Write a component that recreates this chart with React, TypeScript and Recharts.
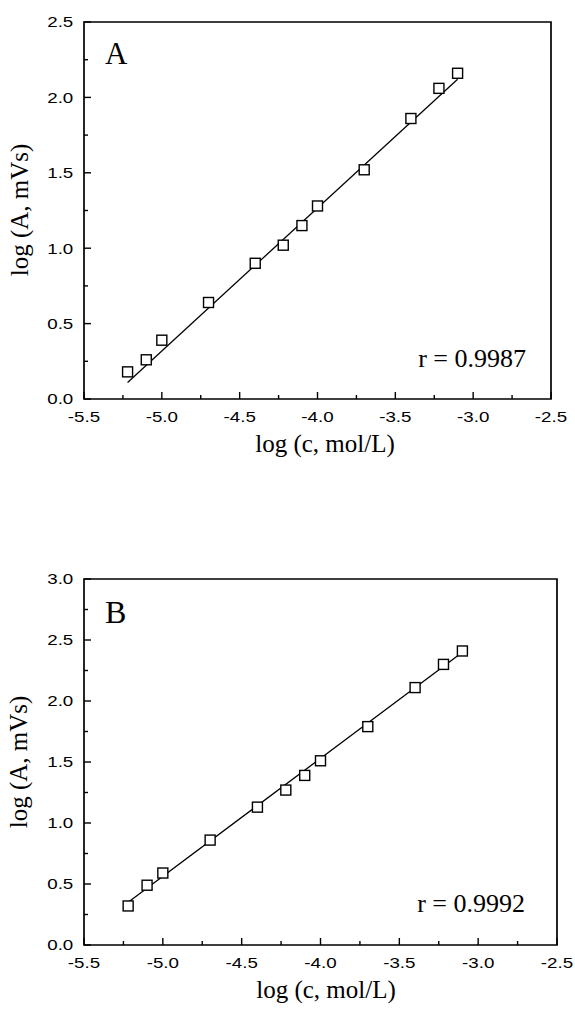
// 検量線 A / B（log c vs log A）
import { ScatterChart, Scatter, XAxis, YAxis, ReferenceArea } from "recharts";

// 濃度（共通）
const logC = [-5.22, -5.1, -5.0, -4.7, -4.4, -4.22, -4.1, -4.0, -3.7, -3.4, -3.22, -3.1];

// ピーク面積
const logAreaA = [0.18, 0.26, 0.39, 0.64, 0.9, 1.02, 1.15, 1.28, 1.52, 1.86, 2.06, 2.16];
const logAreaB = [0.32, 0.49, 0.59, 0.86, 1.13, 1.27, 1.39, 1.51, 1.79, 2.11, 2.3, 2.41];

// 回帰直線の両端
const fitA = [
  { x: -5.22, y: 0.11 },
  { x: -3.1, y: 2.12 },
];
const fitB = [
  { x: -5.22, y: 0.35 },
  { x: -3.1, y: 2.4 },
];

// 目盛り
const xMajor = [-5.5, -5.0, -4.5, -4.0, -3.5, -3.0, -2.5];
const xMinor = [-5.25, -4.75, -4.25, -3.75, -3.25, -2.75];
const yMajorA = [0, 0.5, 1.0, 1.5, 2.0, 2.5];
const yMinorA = [0.25, 0.75, 1.25, 1.75, 2.25];
const yMajorB = [0, 0.5, 1.0, 1.5, 2.0, 2.5, 3.0];
const yMinorB = [0.25, 0.75, 1.25, 1.75, 2.25, 2.75];

const SANS = "'Liberation Sans', Arial, Helvetica, sans-serif";
const SERIF = "'Liberation Serif', 'Times New Roman', serif";

const toPoints = (xs: number[], ys: number[]) => xs.map((x, i) => ({ x, y: ys[i] }));

// 白抜きの四角マーカー
const SquareMarker = (props: any) => {
  const { cx, cy } = props;
  if (cx == null || cy == null) return <g />;
  return <rect x={cx - 5} y={cy - 5} width={10} height={10} fill="#fff" stroke="#000" strokeWidth={1.4} />;
};

// 内向きの目盛り + ラベル（X）
const makeXTick = (majors: number[]) => (props: any) => {
  const { x, y, payload } = props;
  const v = payload.value as number;
  const isMajor = majors.includes(v);
  return (
    <g>
      <line x1={x} x2={x} y1={y} y2={y - (isMajor ? 7 : 4)} stroke="#000" strokeWidth={1.4} />
      {isMajor && (
        <text
          transform={`translate(${x},${y + 23}) scale(1.25,1)`}
          textAnchor="middle"
          fontFamily={SANS}
          fontSize={15}
          fill="#000"
        >
          {v.toFixed(1)}
        </text>
      )}
    </g>
  );
};

// 内向きの目盛り + ラベル（Y）
const makeYTick = (majors: number[]) => (props: any) => {
  const { x, y, payload } = props;
  const v = payload.value as number;
  const isMajor = majors.includes(v);
  return (
    <g>
      <line x1={x} x2={x + (isMajor ? 7 : 4)} y1={y} y2={y} stroke="#000" strokeWidth={1.4} />
      {isMajor && (
        <text
          transform={`translate(${x - 10.7},${y + 5.3}) scale(1.25,1)`}
          textAnchor="end"
          fontFamily={SANS}
          fontSize={15}
          fill="#000"
        >
          {v.toFixed(1)}
        </text>
      )}
    </g>
  );
};

type PanelProps = {
  width: number;
  height: number;
  margin: { top: number; right: number; bottom: number; left: number };
  points: { x: number; y: number }[];
  fit: { x: number; y: number }[];
  yMax: number;
  yMajor: number[];
  yMinor: number[];
  letter: string;
  letterPos: { x: number; y: number; size: number };
  rText: string;
  rPos: { x: number; y: number };
  xTitlePos: { x: number; y: number };
  yTitlePos: { x: number; y: number };
};

function Panel(p: PanelProps) {
  const xTicks = [...xMajor, ...xMinor].sort((a, b) => a - b);
  const yTicks = [...p.yMajor, ...p.yMinor].sort((a, b) => a - b);
  return (
    <div style={{ position: "relative", width: p.width, height: p.height }}>
      <ScatterChart width={p.width} height={p.height} margin={p.margin}>
        <XAxis
          type="number"
          dataKey="x"
          domain={[-5.5, -2.5]}
          ticks={xTicks}
          interval={0}
          axisLine={false}
          tickLine={false}
          tickSize={0}
          tickMargin={0}
          tick={makeXTick(xMajor)}
          height={30}
        />
        <YAxis
          type="number"
          dataKey="y"
          domain={[0, p.yMax]}
          ticks={yTicks}
          interval={0}
          axisLine={false}
          tickLine={false}
          tickSize={0}
          tickMargin={0}
          tick={makeYTick(p.yMajor)}
          width={60}
        />
        {/* 枠線 */}
        <ReferenceArea x1={-5.5} x2={-2.5} y1={0} y2={p.yMax} fill="none" stroke="#000" strokeWidth={1.7} />
        {/* 回帰直線 */}
        <Scatter
          data={p.fit}
          line={{ stroke: "#000", strokeWidth: 1.3 }}
          shape={() => <g />}
          isAnimationActive={false}
        />
        <Scatter data={p.points} shape={SquareMarker} isAnimationActive={false} />
      </ScatterChart>

      {/* 文字（パネル記号・相関係数・軸タイトル） */}
      <svg
        width={p.width}
        height={p.height}
        style={{ position: "absolute", left: 0, top: 0, pointerEvents: "none" }}
      >
        <text x={p.letterPos.x} y={p.letterPos.y} fontFamily={SERIF} fontSize={p.letterPos.size} fill="#000">
          {p.letter}
        </text>
        <text x={p.rPos.x} y={p.rPos.y} textAnchor="end" fontFamily={SERIF} fontSize={26} fill="#000">
          {p.rText}
        </text>
        <text x={p.xTitlePos.x} y={p.xTitlePos.y} textAnchor="middle" fontFamily={SERIF} fontSize={25} fill="#000">
          log (c, mol/L)
        </text>
        <text
          transform={`translate(${p.yTitlePos.x},${p.yTitlePos.y}) rotate(-90)`}
          textAnchor="middle"
          fontFamily={SERIF}
          fontSize={25}
          fill="#000"
        >
          log (A, mVs)
        </text>
      </svg>
    </div>
  );
}

export default function App() {
  return (
    <div style={{ position: "absolute", left: 0, top: 0, width: 575, height: 1019, background: "#fff" }}>
      <Panel
        width={575}
        height={470}
        margin={{ top: 22, right: 24, bottom: 41, left: 24 }}
        points={toPoints(logC, logAreaA)}
        fit={fitA}
        yMax={2.5}
        yMajor={yMajorA}
        yMinor={yMinorA}
        letter="A"
        letterPos={{ x: 105, y: 64, size: 31 }}
        rText="r = 0.9987"
        rPos={{ x: 526, y: 367 }}
        xTitlePos={{ x: 325, y: 452 }}
        yTitlePos={{ x: 28, y: 210 }}
      />
      <Panel
        width={575}
        height={549}
        margin={{ top: 109, right: 18, bottom: 44, left: 24 }}
        points={toPoints(logC, logAreaB)}
        fit={fitB}
        yMax={3.0}
        yMajor={yMajorB}
        yMinor={yMinorB}
        letter="B"
        letterPos={{ x: 105, y: 153, size: 32 }}
        rText="r = 0.9992"
        rPos={{ x: 525, y: 442 }}
        xTitlePos={{ x: 326, y: 528 }}
        yTitlePos={{ x: 27, y: 292 }}
      />
    </div>
  );
}
